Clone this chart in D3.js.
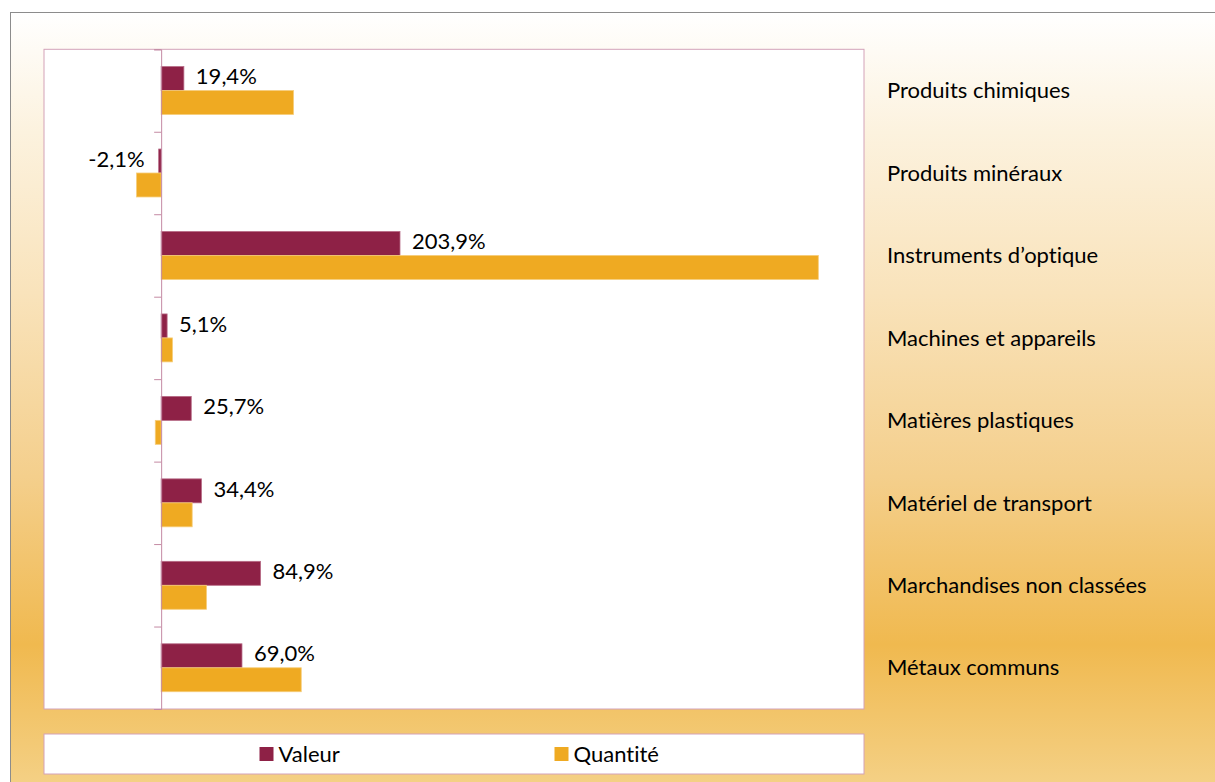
<!DOCTYPE html>
<html>
<head>
<meta charset="utf-8">
<script src="https://cdn.jsdelivr.net/npm/d3@7"></script>
<style>
  body { margin: 0; background: #fff; }
  text { font-family: Lato, "Open Sans", sans-serif; fill: #000; font-variant-ligatures: none; }
</style>
</head>
<body>
<script>
// data
var categories = ['Produits chimiques', 'Produits minéraux', 'Instruments d\u2019optique',
  'Machines et appareils', 'Matières plastiques', 'Matériel de transport',
  'Marchandises non classées', 'Métaux communs']
var series = ['Valeur', 'Quantité']
var valeur = [19.4, -2.1, 203.9, 5.1, 25.7, 34.4, 84.9, 69.0]
var quantite = [113, -21, 561, 9.7, -5, 26.5, 38.7, 119.6]
var colors = ['#8e2146', '#efaa22']

var width = 1215, height = 782
var svg = d3.select('body').append('svg')
  .attr('width', width)
  .attr('height', height)

// background gradient
var grad = svg.append('defs').append('linearGradient')
  .attr('id', 'bg').attr('x1', 0).attr('y1', 0).attr('x2', 0).attr('y2', 1)
grad.selectAll('stop')
  .data([[0, '#ffffff'], [0.15, '#fcf2de'], [0.35, '#f9e3bb'], [0.58, '#f4cf8c'], [0.79, '#f0b94f'], [1, '#f5d590']])
  .enter().append('stop')
  .attr('offset', d => d[0]).attr('stop-color', d => d[1])

svg.append('rect')
  .attr('x', 10.5).attr('y', 12.5)
  .attr('width', 1230).attr('height', 800)
  .attr('fill', 'url(#bg)')
  .attr('stroke', '#8c8c8c')

var plot = { left: 44, right: 864, top: 49.3, bottom: 709 }

svg.append('rect')
  .attr('x', plot.left).attr('y', plot.top)
  .attr('width', plot.right - plot.left).attr('height', plot.bottom - plot.top)
  .attr('fill', '#fff')
  .attr('stroke', '#d3a2b8')

var x = d3.scaleLinear().domain([-100, 600]).range([plot.left, plot.right])
var y = d3.scaleBand().domain(categories).range([plot.top, plot.bottom])
var ySub = d3.scaleBand().domain(series).range([0, y.bandwidth()])
  .paddingInner(0).paddingOuter(0.72)

var rows = categories.map((c, i) => ({ cat: c, vals: [valeur[i], quantite[i]] }))

// bars
var g = svg.append('g')
g.selectAll('g.row')
  .data(rows)
  .enter().append('g')
    .attr('transform', d => 'translate(0,' + y(d.cat) + ')')
  .selectAll('rect')
  .data(d => d.vals.map((v, j) => ({ s: series[j], v: v, j: j })))
  .enter().append('rect')
    .attr('x', d => x(Math.min(0, d.v)))
    .attr('width', d => Math.abs(x(d.v) - x(0)))
    .attr('y', d => ySub(d.s))
    .attr('height', ySub.bandwidth())
    .attr('fill', d => colors[d.j])
    .attr('stroke', d => d.j == 0 ? '#b76a86' : '#f6cd7a')
    .attr('stroke-width', 0.8)

// category axis with ticks at band edges
var yEdge = d3.scaleLinear().domain([0, categories.length]).range([plot.top, plot.bottom])
var axis = svg.append('g')
  .attr('transform', 'translate(' + x(0) + ',0)')
  .call(d3.axisLeft(yEdge).tickValues(d3.range(categories.length + 1)).tickSize(7).tickFormat(''))
axis.select('.domain').attr('stroke', '#c48aa3')
axis.selectAll('.tick line').attr('stroke', '#c48aa3')

// value labels on Valeur bars (french decimal comma, plain hyphen)
var fmt = v => v.toFixed(1).replace('.', ',') + '%'
svg.append('g').selectAll('text')
  .data(rows)
  .enter().append('text')
    .attr('x', d => d.vals[0] < 0 ? x(d.vals[0]) - 14 : x(d.vals[0]) + 12)
    .attr('y', d => y(d.cat) + ySub('Valeur') + ySub.bandwidth() / 2 - 2)
    .attr('dy', '0.35em')
    .attr('text-anchor', d => d.vals[0] < 0 ? 'end' : 'start')
    .attr('font-size', 22)
    .text(d => fmt(d.vals[0]))

// category labels on the right
svg.append('g').selectAll('text')
  .data(categories)
  .enter().append('text')
    .attr('x', 887)
    .attr('y', d => y(d) + y.bandwidth() / 2)
    .attr('dy', '0.35em')
    .attr('font-size', 22)
    .text(d => d)

// legend
svg.append('rect')
  .attr('x', plot.left).attr('y', 734)
  .attr('width', plot.right - plot.left).attr('height', 40)
  .attr('fill', '#fff')
  .attr('stroke', '#d3a2b8')

var legX = [259.5, 554.5]
var leg = svg.append('g').selectAll('g')
  .data(series)
  .enter().append('g')
    .attr('transform', (d, i) => 'translate(' + legX[i] + ',747)')
leg.append('rect')
  .attr('width', 14).attr('height', 14)
  .attr('fill', (d, i) => colors[i])
leg.append('text')
  .attr('x', 19).attr('y', 7).attr('dy', '0.35em')
  .attr('font-size', 22)
  .text(d => d)
</script>
</body>
</html>
